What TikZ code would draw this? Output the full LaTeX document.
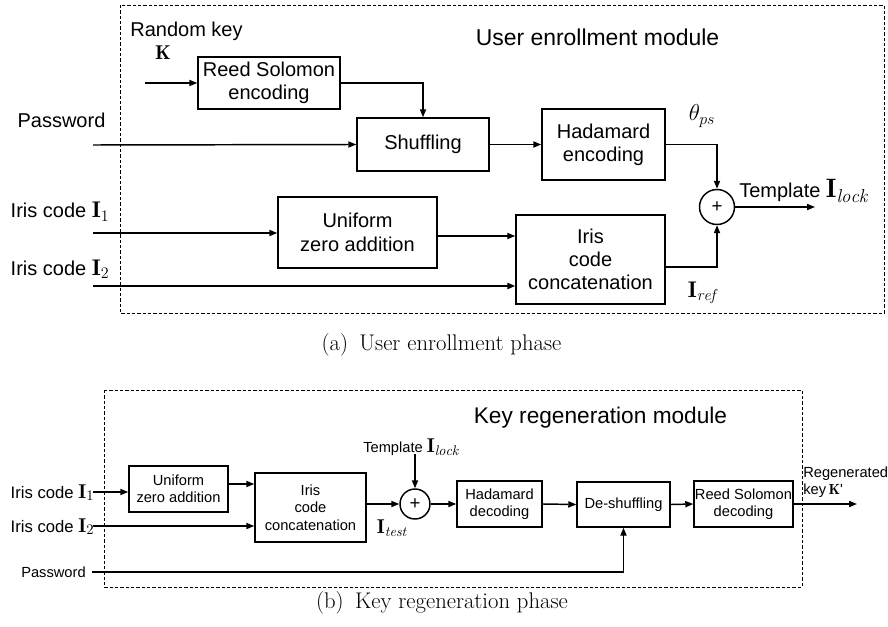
\documentclass[tikz,border=0pt]{standalone}
\usepackage{fontspec}
\newfontfamily\arialf{Liberation Sans}
\usetikzlibrary{arrows.meta}

\begin{document}
\begin{tikzpicture}[x=0.75pt,y=-0.75pt,
  frame/.style={draw, line width=0.7pt, dash pattern=on 2.4pt off 1.6pt},
  blk/.style={draw, line width=1.1pt, align=center, inner sep=0pt},
  sz/.style 2 args={minimum width=#1*0.75pt, minimum height=#2*0.75pt},
  sumc/.style={draw, circle, line width=1.1pt, inner sep=0pt, minimum size=#1*0.75pt},
  arr/.style={line width=1.1pt, -{Triangle[length=6pt,width=4.6pt]}},
  bigf/.style={font=\arialf\fontsize{15}{17.5}\selectfont},
  smf/.style={font=\arialf\fontsize{11}{13}\selectfont},
  capf/.style={font=\fontsize{17}{20}\selectfont},
]
\useasboundingbox (0,0) rectangle (888,627);

% ---------------- (a) enrollment ----------------
\draw[frame] (120,5) rectangle (884,313);
\node[font=\arialf\fontsize{17.2}{20}\selectfont] (titA) at (597.5,37) {User enrollment module};

\node[bigf] (rkey) at (186.5,31) {Random key};
\node[font=\fontsize{15}{17}\selectfont] (kk) at (163,53) {$\mathbf{K}$};
\node[bigf] (pwA) at (61.5,120) {Password};
\node[bigf, anchor=base west] (i1A) at (6,218) {Iris code \fontsize{17}{19}\selectfont$\mathbf{I}_1$};
\node[bigf, anchor=base west] (i2A) at (6,275) {Iris code \fontsize{17}{19}\selectfont$\mathbf{I}_2$};

\node[blk, bigf, sz={142}{52}] (rse) at (269,83) {Reed Solomon\\encoding};
\node[blk, bigf, sz={132}{53}] (shuf) at (423,144.5) {Shuffling};
\node[blk, bigf, sz={123}{71}] (hade) at (603.5,144.5) {Hadamard\\encoding};
\node[blk, bigf, sz={159}{71}] (uza) at (357.5,232.5) {Uniform\\zero addition};
\node[blk, bigf, sz={149}{89}] (icc) at (590.5,259.5) {Iris\\code\\concatenation};
\node[sumc=35, font=\arialf\fontsize{14}{16}\selectfont] (xo) at (717,207) {+};

\coordinate (kin) at (145,83);
\coordinate (pwin) at (93,145);
\coordinate (i1in) at (93,233);
\coordinate (i2in) at (93,286);
\coordinate (tout) at (815,207);

\draw[arr] (kin) -- (rse.west);
\draw[arr] (rse.east) -| (shuf.north);
\draw[arr] (pwin) -- (shuf.west);
\draw[arr] (shuf.east) -- (hade.west);
\draw[arr] (hade.east) -| (xo.north);
\draw[arr] (i1in) -- (i1in -| uza.west);
\draw[arr] (uza.east |- 0,236) -- (icc.west |- 0,236);
\draw[arr, line width=1.5pt] (i2in) -- (i2in -| icc.west);
\draw[arr] (icc.east |- 0,267) -| (xo.south);
\draw[arr] (xo.east) -- (tout);

\node[font=\fontsize{17}{19}\selectfont] (theta) at (702,116) {$\theta_{ps}$};
\node[font=\fontsize{17}{19}\selectfont] (iref) at (702,293) {$\mathbf{I}_{\mathit{ref}}$};
\node[bigf, anchor=base west, inner sep=0pt] (tmplA) at (739,198) {Template \fontsize{20}{22}\selectfont$\mathbf{I}_{\mathit{lock}}$};

\node[capf] (capA) at (441.5,345) {(a)\enspace User enrollment phase};

% ---------------- (b) key regeneration ----------------
\draw[frame] (104,390) rectangle (802,587);
\node[font=\arialf\fontsize{17}{20}\selectfont] (titB) at (600.5,418) {Key regeneration module};

\node[font=\arialf\fontsize{12.5}{15}\selectfont, anchor=base west] (i1B) at (6,498) {Iris code \fontsize{15}{17}\selectfont$\mathbf{I}_1$};
\node[font=\arialf\fontsize{12.5}{15}\selectfont, anchor=base west] (i2B) at (6,532) {Iris code \fontsize{15}{17}\selectfont$\mathbf{I}_2$};
\node[smf] (pwB) at (53.5,572) {Password};

\node[blk, smf, sz={99}{46}] (buza) at (178.5,489) {Uniform\\zero addition};
\node[blk, smf, sz={111}{69}] (bicc) at (310.5,507.5) {Iris\\code\\concatenation};
\node[sumc=30, font=\arialf\fontsize{14}{16}\selectfont] (bxo) at (415,504) {+};
\node[blk, smf, sz={85}{46}] (bhad) at (499.5,504) {Hadamard\\decoding};
\node[blk, smf, sz={93}{45}] (bdes) at (623.5,504.5) {De-shuffling};
\node[blk, smf, sz={99}{46}] (brsd) at (743.5,504) {Reed Solomon\\decoding};

\coordinate (bi1in) at (93,492);
\coordinate (bi2in) at (93,526);
\coordinate (bpwin) at (92,572);
\coordinate (btin) at (415,454);
\coordinate (kout) at (857,504);

\draw[arr] (bi1in) -- (bi1in -| buza.west);
\draw[arr] (buza.east |- 0,484) -- (bicc.west |- 0,484);
\draw[arr] (bi2in) -- (bi2in -| bicc.west);
\draw[arr] (bicc.east |- 0,504) -- (bxo.west);
\draw[arr] (btin) -- (bxo.north);
\draw[arr] (bxo.east) -- (bhad.west);
\draw[arr] (bhad.east) -- (bdes.west);
\draw[arr] (bdes.east) -- (brsd.west);
\draw[arr] (brsd.east) -- (kout);
\draw[arr] (bpwin) -| (bdes.south);

\node[smf, anchor=base west, inner sep=0pt] (tmplB) at (363,452) {Template \fontsize{15}{17}\selectfont$\mathbf{I}_{\mathit{lock}}$};
\node[font=\fontsize{15}{17}\selectfont] (itest) at (392,528) {$\mathbf{I}_{\mathit{test}}$};
\node[smf, anchor=west, inner sep=0pt, align=left] (regen) at (803,482) {Regenerated\\key\,$\mathbf{K}$'};

\node[capf] (capB) at (442,603) {(b)\enspace Key regeneration phase};
\end{tikzpicture}
\end{document}
